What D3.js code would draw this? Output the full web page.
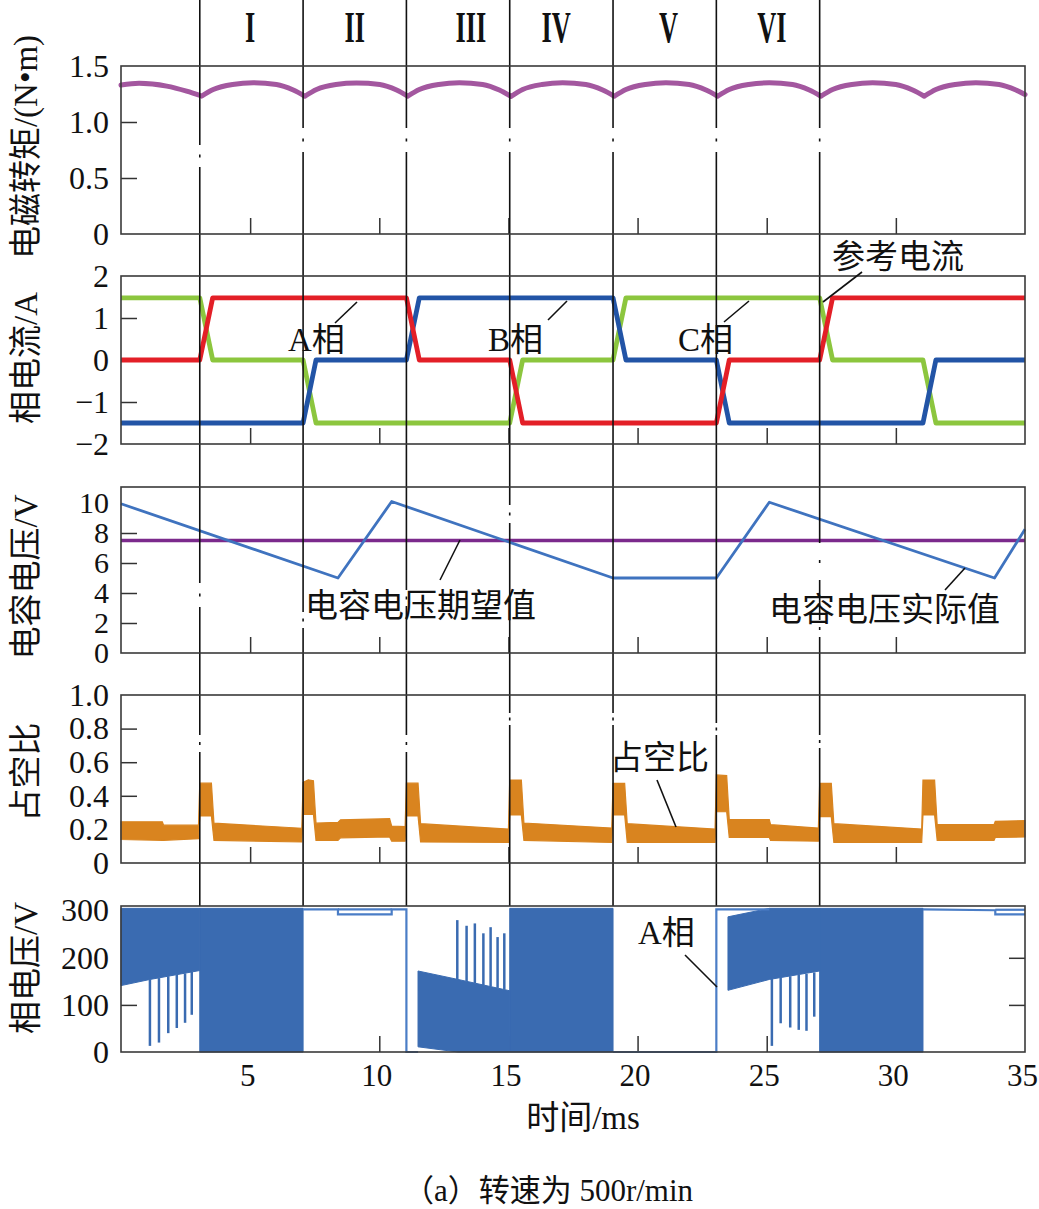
<!DOCTYPE html>
<html><head><meta charset="utf-8">
<script src="https://cdn.jsdelivr.net/npm/d3@7"></script>
<style>body{margin:0;background:#fff}svg{display:block}</style>
</head><body>
<svg id="c" width="1039" height="1209"></svg>
<script>
// ---------------- DATA ----------------
const sectorBounds = [3.05, 7.05, 11.05, 15.05, 19.05, 23.05, 27.05];
const sectorLabels = ["I", "II", "III", "IV", "V", "VI"];
const sectorLabelT = [5.0, 9.05, 13.55, 16.85, 21.2, 25.2];

const xTicks = [5, 10, 15, 20, 25, 30, 35];

// Panel 1: electromagnetic torque (N·m), one array per commutation cycle
const torqueCycles = [
  [[0,1.33],[0.7,1.345],[1.77,1.32],[2.54,1.275],[3.12,1.232]],
  [[3.12,1.232],[3.57,1.29],[4.32,1.335],[5.12,1.35],[6.02,1.335],[6.67,1.285],[7.12,1.23]],
  [[7.12,1.23],[7.57,1.29],[8.32,1.335],[9.12,1.348],[10.02,1.335],[10.67,1.285],[11.1,1.23]],
  [[11.1,1.23],[11.55,1.29],[12.3,1.335],[13.1,1.35],[14.0,1.335],[14.65,1.285],[15.1,1.228]],
  [[15.1,1.228],[15.55,1.29],[16.3,1.335],[17.1,1.35],[18.0,1.335],[18.65,1.285],[19.1,1.23]],
  [[19.1,1.23],[19.55,1.29],[20.3,1.335],[21.1,1.35],[22.0,1.335],[22.65,1.285],[23.1,1.23]],
  [[23.1,1.23],[23.55,1.29],[24.3,1.335],[25.1,1.35],[26.0,1.335],[26.65,1.285],[27.1,1.23]],
  [[27.1,1.23],[27.55,1.29],[28.3,1.335],[29.1,1.35],[30.0,1.335],[30.65,1.285],[31.1,1.23]],
  [[31.1,1.23],[31.55,1.29],[32.3,1.335],[33.1,1.35],[34.0,1.335],[34.65,1.285],[35,1.245]]
];

// Panel 2: phase currents (A)
const currentA = [[0,0],[3.05,0],[3.55,1.48],[11.05,1.48],[11.55,0],[15.05,0],[15.55,-1.5],[23.05,-1.5],[23.55,0],[27.05,0],[27.55,1.48],[35,1.48]];
const currentB = [[0,-1.5],[7.05,-1.5],[7.55,0],[11.05,0],[11.55,1.48],[19.05,1.48],[19.55,0],[23.05,0],[23.55,-1.5],[31.05,-1.5],[31.55,0],[35,0]];
const currentC = [[0,1.48],[3.05,1.48],[3.55,0],[7.05,0],[7.55,-1.5],[15.05,-1.5],[15.55,0],[19.05,0],[19.55,1.48],[27.05,1.48],[27.55,0],[31.05,0],[31.55,-1.5],[35,-1.5]];

// Panel 3: capacitor voltage (V)
const capActual = [[0,9.95],[8.4,5.0],[10.48,10.1],[19.05,5.0],[23.05,5.0],[25.1,10.05],[33.82,5.0],[35,8.25]];
const capDesired = [[0,7.5],[35,7.5]];

// Panel 4: duty ratio band [t, low, high]
const dutyBand = [
  [0,0.14,0.245],[1.6,0.135,0.245],[1.65,0.135,0.225],[3.0,0.145,0.225],
  [3.05,0.28,0.475],[3.5,0.28,0.475],[3.6,0.135,0.237],[7.0,0.125,0.207],
  [7.05,0.29,0.48],[7.25,0.29,0.495],[7.45,0.29,0.49],[7.55,0.135,0.237],[8.4,0.135,0.242],[8.5,0.15,0.257],[10.4,0.155,0.264],[10.48,0.13,0.22],[11.0,0.13,0.217],
  [11.05,0.28,0.475],[11.5,0.28,0.475],[11.6,0.125,0.234],[15.0,0.122,0.202],
  [15.05,0.286,0.494],[15.5,0.286,0.494],[15.6,0.135,0.238],[19.0,0.122,0.208],
  [19.05,0.286,0.474],[19.5,0.286,0.474],[19.6,0.122,0.234],[23.0,0.122,0.202],
  [23.05,0.305,0.524],[23.45,0.305,0.52],[23.55,0.152,0.258],[25.1,0.152,0.258],[25.15,0.135,0.228],[27.0,0.13,0.208],
  [27.05,0.276,0.474],[27.5,0.276,0.474],[27.6,0.122,0.234],[31.0,0.122,0.202],
  [31.05,0.286,0.494],[31.5,0.286,0.494],[31.6,0.135,0.228],[33.8,0.135,0.228],[33.85,0.152,0.248],[35,0.155,0.252]
];

// Panel 5: A-phase voltage (V)
const pvFullBlocks = [[3.05,7.05],[15.05,19.05],[27.05,31.05]];
const pvTop = 305;
const pvRegionA = [[0,141,305],[1.12,154,305],[3.05,173,305]];
const pvRegionB = [[11.5,11,172],[13.05,0,154],[15.05,0,130]];
const pvRegionC = [[23.5,131,287],[25.1,154,305],[27.05,172,305]];
const pvSpikesA = [[1.12,154,13],[1.47,157,20],[1.83,161,40],[2.16,164,51],[2.48,167,62],[2.74,170,79]];
const pvSpikesB = [[13.02,154,280],[13.38,150,268],[13.7,146,273],[14.03,142,252],[14.31,139,265],[14.58,136,244],[14.84,133,252]];
const pvSpikesC = [[25.2,155,13],[25.54,158,61],[25.91,161,52],[26.24,164,47],[26.54,166,45],[26.84,169,75]];
const pvOutline1 = [[7.05,303],[8.4,303],[8.4,292],[10.48,292],[10.48,303],[11.05,303],[11.05,0],[11.5,0]];
const pvOutline1b = [[8.4,303],[10.48,303]];
const pvOutline2 = [[19.05,0],[23.05,0],[23.05,303],[25.1,303]];
const pvOutline3 = [[31.05,303],[33.85,301],[33.85,292],[35,292]];
const pvOutline3b = [[33.85,302],[35,302]];

// ---------------- LAYOUT ----------------
const svg = d3.select("#c");
const X0 = 121, X1 = 1025;
const x = d3.scaleLinear().domain([0,35]).range([X0,X1]);
const latin = "'Liberation Serif', 'Times New Roman', serif";
const mixed = "'Liberation Serif', 'Noto Sans CJK SC', serif";

const panels = [
  {top:66, bottom:234, y:d3.scaleLinear().domain([0,1.5]).range([234,66]),
   labels:[0,0.5,1.0,1.5], fmt:d=>d===0?"0":d3.format(".1f")(d), ticks:[0.5,1.0], title:"电磁转矩/(N•m)", titleY:147},
  {top:276, bottom:444, y:d3.scaleLinear().domain([-2,2]).range([444,276]),
   labels:[-2,-1,0,1,2], fmt:d=>d<0?"\u2212"+(-d):String(d), ticks:[-1,0,1], title:"相电流/A", titleY:358},
  {top:487, bottom:653, y:d3.scaleLinear().domain([0,10]).range([653,503]),
   labels:[0,2,4,6,8,10], fmt:d=>String(d), ticks:[2,4,6,8], title:"电容电压/V", titleY:577},
  {top:695, bottom:863, y:d3.scaleLinear().domain([0,1]).range([863,695]),
   labels:[0,0.2,0.4,0.6,0.8,1.0], fmt:d=>d===0?"0":d3.format(".1f")(d), ticks:[0.2,0.4,0.6,0.8], title:"占空比", titleY:772},
  {top:906, bottom:1052, y:d3.scaleLinear().domain([0,300]).range([1052,910.7]),
   labels:[0,100,200,300], fmt:d=>String(d), ticks:[100,200,300], title:"相电压/V", titleY:968}
];

function styleAxis(g, size){
  g.attr("font-family", null).attr("font-size", null);
  g.select(".domain").remove();
  g.selectAll("text").style("font-family", latin).style("font-size", size+"px").attr("fill","#111");
  g.selectAll("line").attr("stroke","#333").attr("stroke-width",1.5);
}

// ticks (under data)
panels.forEach((p,i)=>{
  const gt = svg.append("g").attr("transform",`translate(${X0},0)`)
    .call(d3.axisLeft(p.y).tickValues(p.ticks).tickSize(-16).tickFormat(""));
  styleAxis(gt, 32);
  const gb = svg.append("g").attr("transform",`translate(0,${p.bottom})`)
    .call(d3.axisBottom(x).tickValues(xTicks.slice(0,6)).tickSize(-16).tickFormat(""));
  styleAxis(gb, 31);
  if(i===4){
    const gr = svg.append("g").attr("transform",`translate(${X1},0)`)
      .call(d3.axisRight(p.y).tickValues([100,200]).tickSize(-16).tickFormat(""));
    styleAxis(gr, 32);
  }
});

const P = panels;
const lineOf = (y, curve) => d3.line().x(d=>x(d[0])).y(d=>y(d[1])).curve(curve||d3.curveLinear);

// Panel 1: torque
const tPath = torqueCycles.map(c => lineOf(P[0].y, d3.curveMonotoneX)(c)).join("");
svg.append("path").attr("d", tPath).attr("fill","none").attr("stroke","#a3579f")
  .attr("stroke-width",5).attr("stroke-linejoin","round").attr("stroke-linecap","round");

// Panel 2: currents
[[currentC,"#8cc63e"],[currentB,"#2254a6"],[currentA,"#e31f27"]].forEach(([d,c])=>{
  svg.append("path").attr("d", lineOf(P[1].y)(d)).attr("fill","none").attr("stroke",c)
    .attr("stroke-width",4.8).attr("stroke-linejoin","round");
});

// Panel 3: capacitor voltage
svg.append("path").attr("d", lineOf(P[2].y)(capDesired)).attr("fill","none").attr("stroke","#7b2a8c").attr("stroke-width",3.5);
svg.append("path").attr("d", lineOf(P[2].y)(capActual)).attr("fill","none").attr("stroke","#3f73bf").attr("stroke-width",2.8).attr("stroke-linejoin","round");

// Panel 4: duty ratio band
svg.append("path").attr("d", d3.area().x(d=>x(d[0])).y0(d=>P[3].y(d[1])).y1(d=>P[3].y(d[2]))(dutyBand))
  .attr("fill","#d9841f").attr("stroke","#d9841f").attr("stroke-width",1.2);

// Panel 5: phase voltage
const pvColor = "#3a6bb1", pvLine = "#4a7dc6";
const y5 = P[4].y;
const area5 = d3.area().x(d=>x(d[0])).y0(d=>y5(d[1])).y1(d=>y5(d[2]));
pvFullBlocks.forEach(b=>{
  svg.append("path").attr("d", area5([[b[0],0,pvTop],[b[1],0,pvTop]])).attr("fill",pvColor).attr("stroke",pvColor).attr("stroke-width",1);
});
[pvRegionA,pvRegionB,pvRegionC].forEach(r=>{
  svg.append("path").attr("d", area5(r)).attr("fill",pvColor).attr("stroke",pvColor).attr("stroke-width",1);
});
[pvSpikesA,pvSpikesB,pvSpikesC].forEach(s=>{
  svg.selectAll(null).data(s).enter().append("line")
    .attr("x1",d=>x(d[0])).attr("x2",d=>x(d[0]))
    .attr("y1",d=>y5(d[1])).attr("y2",d=>y5(d[2]))
    .attr("stroke",pvColor).attr("stroke-width",2.5);
});
[pvOutline1,pvOutline1b,pvOutline2,pvOutline3,pvOutline3b].forEach(o=>{
  svg.append("path").attr("d", lineOf(y5)(o)).attr("fill","none").attr("stroke",pvLine).attr("stroke-width",2.2);
});

// sector boundary lines (with small dash-dot breaks)
const gaps = [
  [[145,167],[583,607],[735,752]],
  [[128,152],[612,628]],
  [[128,152],[590,606],[735,752]],
  [[128,152],[505,523],[713,725]],
  [[128,152],[713,725]],
  [[128,152],[723,735]],
  [[128,152],[543,580],[620,637],[735,748]]
];
sectorBounds.forEach((t,i)=>{
  const segs = []; let s = 0;
  gaps[i].forEach(([a,b])=>{ segs.push([s,a]); const m=(a+b)/2; segs.push([m-1.5,m+1.5]); s=b; });
  segs.push([s,906]);
  segs.forEach(([a,b])=>{
    svg.append("line").attr("x1",x(t)).attr("x2",x(t)).attr("y1",a).attr("y2",b)
      .attr("stroke","#111").attr("stroke-width",1.6);
  });
});

// frames
panels.forEach(p=>{
  svg.append("rect").attr("x",X0).attr("y",p.top).attr("width",X1-X0).attr("height",p.bottom-p.top)
    .attr("fill","none").attr("stroke","#3a3a3a").attr("stroke-width",1.6);
});

// y labels
panels.forEach((p,i)=>{
  const g = svg.append("g").attr("transform",`translate(${X0},0)`)
    .call(d3.axisLeft(p.y).tickValues(p.labels).tickSize(0).tickPadding(12).tickFormat(p.fmt));
  styleAxis(g, i===2 ? 30 : 32);
  g.selectAll("line").remove();
  svg.append("text").attr("transform",`translate(26,${p.titleY}) rotate(-90)`)
    .attr("text-anchor","middle").attr("dominant-baseline","central")
    .style("font-family",mixed).style("font-size","33px").attr("fill","#111").text(p.title);
});

// x labels
const gx = svg.append("g").attr("transform",`translate(-3,${P[4].bottom})`)
  .call(d3.axisBottom(x).tickValues(xTicks).tickSize(0).tickPadding(12));
styleAxis(gx, 31);
gx.selectAll("line").remove();

svg.append("text").attr("x",583).attr("y",1118).attr("text-anchor","middle").attr("dominant-baseline","central")
  .style("font-family",mixed).style("font-size","33px").attr("fill","#111").text("时间/ms");
svg.append("text").attr("x",548).attr("y",1190).attr("text-anchor","middle").attr("dominant-baseline","central")
  .style("font-family",mixed).style("font-size","31px").attr("fill","#111").text("（a）转速为 500r/min");

// sector numerals
sectorLabels.forEach((s,i)=>{
  svg.append("text").attr("transform",`translate(${x(sectorLabelT[i])},42) scale(0.6,1)`)
    .attr("text-anchor","middle").style("font-family",latin).style("font-size","44px")
    .style("font-weight","bold").attr("fill","#111").text(s);
});

// annotations
const notes = [
  {text:"A相", x:288, y:340, l:[335,323,357,302]},
  {text:"B相", x:488, y:340, l:[548,320,567,301]},
  {text:"C相", x:678, y:340, l:[724,322,749,301]},
  {text:"参考电流", x:832, y:257, l:[862,272,823,302]},
  {text:"电容电压期望值", x:305, y:606, l:[440,580,460,540]},
  {text:"电容电压实际值", x:769, y:610, l:[945,590,965,568]},
  {text:"占空比", x:610, y:758, l:[657,780,676,827]},
  {text:"A相", x:638, y:933, l:[685,955,717,987]}
];
notes.forEach(n=>{
  svg.append("line").attr("x1",n.l[0]).attr("y1",n.l[1]).attr("x2",n.l[2]).attr("y2",n.l[3])
    .attr("stroke","#111").attr("stroke-width",1.6);
  svg.append("text").attr("x",n.x).attr("y",n.y).attr("dominant-baseline","central")
    .style("font-family",mixed).style("font-size","33px").attr("fill","#111").text(n.text);
});
</script>
</body></html>
